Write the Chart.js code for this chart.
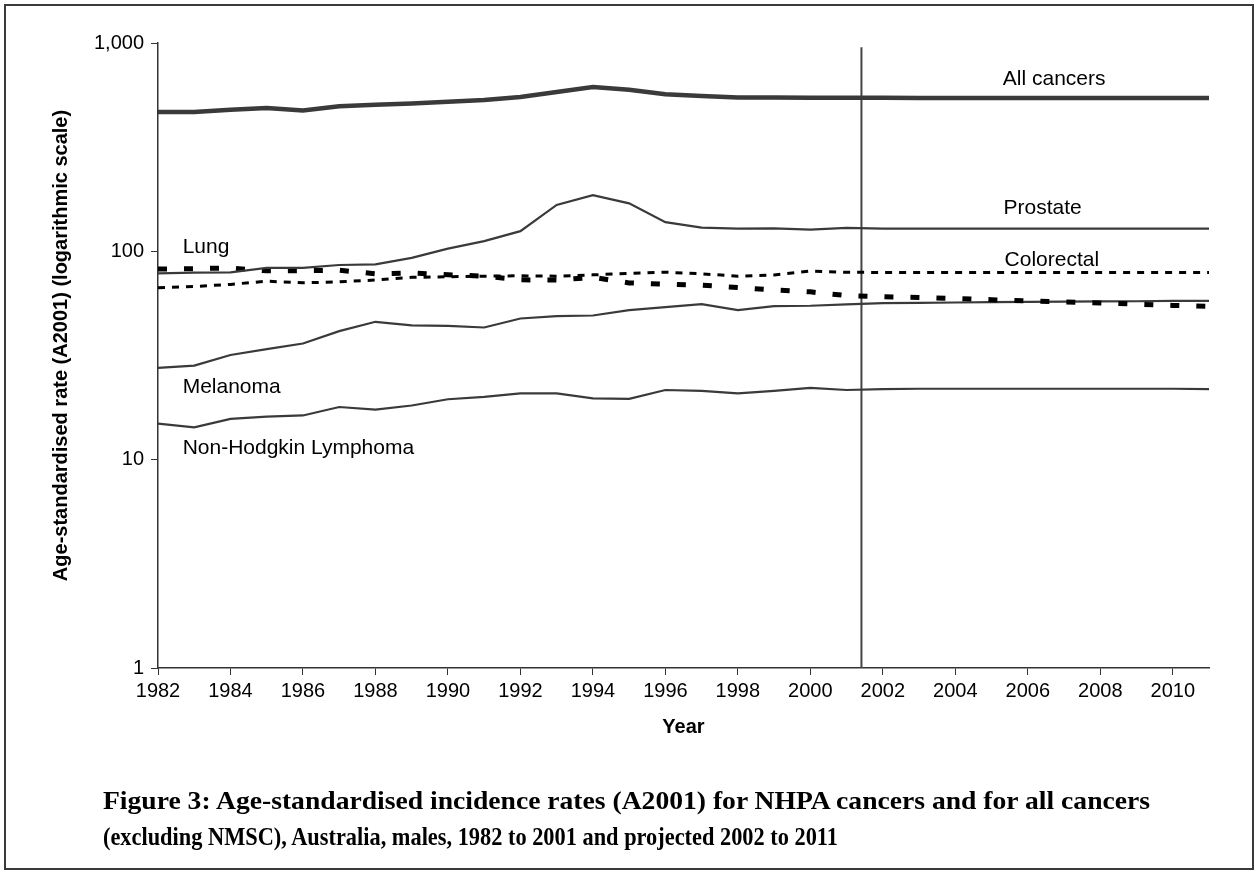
<!DOCTYPE html>
<html><head><meta charset="utf-8">
<script src="https://cdn.jsdelivr.net/npm/chart.js@4.4.0/dist/chart.umd.min.js"></script>
<style>
html,body{margin:0;padding:0;background:#fff;}
#wrap{position:relative;width:1260px;height:879px;overflow:hidden;background:#fff;}
#frame{position:absolute;left:4px;top:4px;width:1246px;height:862px;border:2.5px solid #3a3a3a;}
canvas{position:absolute;left:0;top:0;}
.cap{position:absolute;left:103px;display:inline-block;font-family:"Liberation Serif","Times New Roman",serif;font-weight:bold;font-size:25px;line-height:36px;color:#000;white-space:nowrap;transform-origin:0 0;}
#cap1{top:783px;}
#cap2{top:819px;}
</style></head>
<body><div id="wrap"><div id="frame"></div><canvas id="c" width="1260" height="879"></canvas>
<div class="cap" id="cap1">Figure 3: Age-standardised incidence rates (A2001) for NHPA cancers and for all cancers</div>
<div class="cap" id="cap2">(excluding NMSC), Australia, males, 1982 to 2001 and projected 2002 to 2011</div></div>
<script>
const years = [1982,1983,1984,1985,1986,1987,1988,1989,1990,1991,1992,1993,1994,1995,1996,1997,1998,1999,2000,2001,2002,2003,2004,2005,2006,2007,2008,2009,2010,2011];
const allCancers = [466,466,478,488,474,497,505,512,522,533,551,582,615,597,568,557,548,548,546,546,546,545,545,545,545,545,544,544,544,544];
const prostate = [78.3,79,79.3,83.3,83.3,86,86.5,93,103,112,125,167,186,170,138,130,128.5,129,127,129.5,128.5,128.5,128.5,128.5,128.5,128.5,128.5,128.5,128.5,128.5];
const lung = [82.2,82.6,83.2,80.6,80.8,81.2,78,78.8,77.2,76,73,72.8,75,70.5,69.6,68.8,67,65.2,63.9,61.3,60.5,60,59.3,58.6,57.8,57.2,56.5,55.8,55,54.5];
const colorectal = [66.8,67.8,69.4,71.9,70.6,71.4,72.8,75,75.5,76,76.3,76,77.1,78.4,79.4,78,76,77,80.4,79.3,79.2,79.2,79.2,79.2,79.2,79.2,79.2,79.2,79.2,79.2];
const melanoma = [27.6,28.3,31.8,33.9,36.1,41.4,45.9,44.1,43.9,43.1,47.6,48.9,49.2,52.2,54,55.8,52.2,54.6,54.8,55.6,56.4,56.6,56.8,57,57.2,57.3,57.5,57.6,57.8,57.9];
const nhl = [14.9,14.3,15.7,16.1,16.3,17.9,17.4,18.2,19.5,20,20.8,20.8,19.7,19.6,21.6,21.4,20.8,21.4,22.1,21.6,21.8,21.9,21.9,21.9,21.9,21.9,21.9,21.9,21.9,21.8];
const xTickYears = [1982,1984,1986,1988,1990,1992,1994,1996,1998,2000,2002,2004,2006,2008,2010];
const yTickValues = [1,10,100,1000];
const projectionBoundary = 2001.41;
const yTitleText = 'Age-standardised rate (A2001) (logarithmic scale)';
const seriesLabels = [
  {text:'All cancers', year:2005.31, value:627},
  {text:'Prostate', year:2005.33, value:151},
  {text:'Colorectal', year:2005.36, value:85},
  {text:'Lung', year:1982.68, value:97.8},
  {text:'Melanoma', year:1982.68, value:20.9},
  {text:'Non-Hodgkin Lymphoma', year:1982.68, value:10.64}
];

// fit caption lines to the reference widths
[['cap1',1047],['cap2',735]].forEach(([id,w])=>{
  const el = document.getElementById(id);
  const k = w / el.getBoundingClientRect().width;
  el.style.transform = 'scaleX(' + k + ')';
});

const pts = arr => years.map((yr,i)=>({x:yr,y:arr[i]}));
const FONT = '"Liberation Sans", Arial, Helvetica, sans-serif';
Chart.defaults.font.family = FONT;
Chart.defaults.color = '#000';

const labelPlugin = {
  id:'seriesLabels',
  afterDatasetsDraw(chart){
    const {ctx, scales:{x,y}} = chart;
    ctx.save();
    ctx.font = '21px ' + FONT;
    ctx.fillStyle = '#000';
    ctx.textAlign = 'left';
    ctx.textBaseline = 'alphabetic';
    seriesLabels.forEach(l => ctx.fillText(l.text, x.getPixelForValue(l.year), y.getPixelForValue(l.value)));
    ctx.font = 'bold 20px ' + FONT;
    ctx.textAlign = 'center';
    ctx.textBaseline = 'middle';
    ctx.translate(61, (chart.chartArea.top + chart.chartArea.bottom)/2 - 10);
    ctx.rotate(-Math.PI/2);
    ctx.fillText(yTitleText, 0, 0);
    ctx.restore();
  }
};

const solid = '#3a3a3a';
new Chart(document.getElementById('c'), {
  type:'line',
  data:{datasets:[
    {label:'All cancers', data:pts(allCancers), borderColor:solid, borderWidth:4.5},
    {label:'Prostate', data:pts(prostate), borderColor:solid, borderWidth:2.2},
    {label:'Lung', data:pts(lung), borderColor:'#000', borderWidth:5, borderDash:[9,17], borderCapStyle:'butt'},
    {label:'Colorectal', data:pts(colorectal), borderColor:'#000', borderWidth:3, borderDash:[7,7]},
    {label:'Melanoma', data:pts(melanoma), borderColor:solid, borderWidth:2.2},
    {label:'Non-Hodgkin Lymphoma', data:pts(nhl), borderColor:solid, borderWidth:2.2},
    {label:'Projection', data:[{x:projectionBoundary,y:1},{x:projectionBoundary,y:955}], borderColor:'#444', borderWidth:2, clip:false}
  ]},
  options:{
    responsive:false, animation:false, devicePixelRatio:1,
    layout:{padding:{left:0, top:43, right:51, bottom:0}},
    elements:{point:{radius:0}, line:{tension:0, fill:false}},
    plugins:{legend:{display:false}, tooltip:{enabled:false}},
    scales:{
      x:{type:'linear', min:1982, max:2011,
        afterBuildTicks: s => { s.ticks = xTickYears.map(v=>({value:v})); },
        afterFit: s => { s.height = 211; },
        ticks:{callback: v => String(v), font:{size:20}, color:'#000', padding:4, maxRotation:0, autoSkip:false},
        grid:{drawOnChartArea:false, drawTicks:true, tickLength:7, color:'#333', lineWidth:1},
        border:{display:true, color:'#333', width:1.5},
        title:{display:true, text:'Year', font:{size:20, weight:'bold'}, color:'#000', padding:{top:0,bottom:140}}
      },
      y:{type:'logarithmic', min:1, max:1000,
        afterBuildTicks: s => { s.ticks = yTickValues.map(v=>({value:v, major:true})); },
        afterFit: s => { s.width = 158; },
        ticks:{callback: v => Number(v).toLocaleString('en-US'), font:{size:20}, color:'#000', padding:7, autoSkip:false},
        grid:{drawOnChartArea:false, drawTicks:true, tickLength:7, color:'#333', lineWidth:1},
        border:{display:true, color:'#333', width:1.5},
        title:{display:false}
      }
    }
  },
  plugins:[labelPlugin]
});
</script></body></html>
